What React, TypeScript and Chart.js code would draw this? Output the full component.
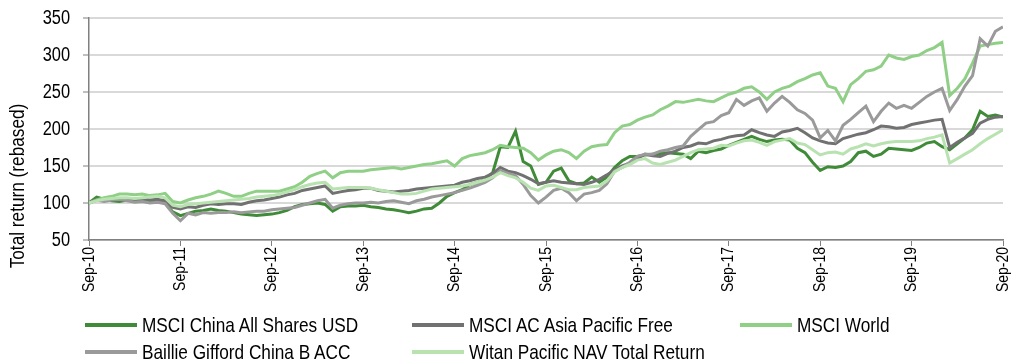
import React, { useEffect, useRef } from 'react';
import { Chart, registerables } from 'chart.js';

Chart.register(...registerables);

// Monthly observations, Sep-10 (index 0) to Sep-20 (index 120)
const X_TICK_LABELS = ['Sep-10', 'Sep-11', 'Sep-12', 'Sep-13', 'Sep-14', 'Sep-15', 'Sep-16', 'Sep-17', 'Sep-18', 'Sep-19', 'Sep-20'];
const Y_TITLE = 'Total return (rebased)';

const MSCI_CHINA_ALL = [
  100, 108, 105, 103, 102, 104, 102, 103, 101, 103, 100, 88,
  83, 86, 89, 90, 92, 90, 89, 87, 85, 84, 83, 84,
  85, 87, 90, 95, 98, 99, 100, 98, 89, 95, 96, 96,
  97, 95, 94, 92, 91, 89, 87, 89, 92, 93, 100, 109,
  114, 118, 125, 128, 132, 141, 176, 175, 197, 156, 150, 125,
  128, 143, 147, 130, 126, 127, 135, 128, 135, 148, 157, 163,
  163, 165, 166, 167, 168, 167, 166, 160, 170, 168, 171, 173,
  178, 182, 186, 190, 186, 183, 185, 186, 185, 174, 168, 155,
  144, 149, 148, 150, 156, 168, 170, 163, 166, 174, 173, 172,
  171, 175, 181, 183, 176, 172, 180, 188, 199, 224, 217, 219,
  216,
];

const MSCI_AC_ASIA_PACIFIC = [
  100, 104, 106, 105, 106, 105, 104, 106, 104, 105, 103, 94,
  92, 95, 94, 97, 99, 98, 99, 99, 98, 101, 103, 104,
  106, 108, 111, 113, 117, 119, 121, 123, 113, 115, 117, 118,
  120, 120, 117, 116, 115, 116, 117, 119, 120, 121, 122, 123,
  124, 128, 130, 133, 135, 140, 148, 143, 141, 137, 132, 126,
  128, 130, 128, 127, 126, 125, 128, 132, 138, 145, 150, 154,
  160, 166, 164, 163, 167, 170, 175, 177, 181, 180, 184, 186,
  189, 191, 192, 199, 195, 192, 190, 196, 198, 201, 195, 188,
  184, 181, 180, 187, 190, 193, 195, 199, 204, 203, 201, 202,
  206, 208, 210, 212, 213, 175, 182, 188, 194, 208, 213, 216,
  217,
];

const MSCI_WORLD = [
  100, 104, 107, 109, 112, 112, 111, 112, 110, 111, 113, 102,
  100, 104, 107, 109, 112, 116, 113, 109, 109, 113, 116, 116,
  116, 116, 119, 122, 128, 136, 140, 143, 134, 141, 143, 143,
  143, 145, 146, 147, 148, 146, 148, 150, 152, 153, 155, 157,
  150, 160, 164, 166, 168, 172, 178, 176, 175, 174, 168, 158,
  165, 170, 172, 168, 160, 170, 176, 178, 179, 195, 204, 206,
  212, 216, 219, 226, 231, 237, 236, 238, 240, 238, 237, 242,
  247, 250, 255, 257, 250, 240, 250, 255, 258, 264, 268, 273,
  276, 258, 255, 237, 260, 268, 278, 280, 285, 300, 296, 294,
  298, 300, 306, 310, 317, 245, 255, 268, 289, 312, 314, 316,
  317,
];

const BAILLIE_GIFFORD_CHINA = [
  100, 104, 102, 104, 105, 103, 101, 102, 100, 101, 99, 86,
  76, 86, 84, 87, 86, 87, 87, 88, 87, 88, 89, 89,
  91, 92, 93, 94, 97, 100, 103, 105, 93, 97, 99, 100,
  100, 101, 100, 102, 103, 101, 99, 103, 105, 108, 110, 112,
  114, 117, 120, 124, 128, 134, 144, 140, 137, 125, 110, 100,
  108, 117, 120, 114, 103, 112, 114, 117, 126, 143, 148, 155,
  163, 166, 166, 170, 172, 175, 177, 190, 199, 208, 210, 218,
  222, 240, 232, 238, 242, 224, 235, 244, 236, 226, 221, 212,
  188, 198, 184, 205, 213, 222, 231, 210, 224, 235, 228, 232,
  228, 236, 244, 250, 255, 225, 240, 258, 272, 322, 312, 332,
  338,
];

const WITAN_PACIFIC_NAV = [
  100, 103, 105, 106, 107, 107, 106, 107, 108, 109, 107, 97,
  95, 98, 99, 100, 101, 102, 103, 104, 105, 106, 108, 109,
  110, 112, 115, 118, 122, 125, 127, 128, 119, 120, 121, 121,
  121, 120, 118, 116, 114, 112, 112, 113, 116, 119, 120, 121,
  122, 123, 125, 128, 131, 135, 141, 137, 134, 128, 120, 117,
  123, 124, 121, 118, 118, 121, 122, 123, 130, 142, 148, 152,
  158, 160, 154, 152, 155, 158, 163, 168, 172, 173, 174, 178,
  177, 181, 184, 185, 182, 178, 183, 185, 187, 181, 179, 172,
  165, 168, 169, 166, 173, 176, 180, 177, 180, 182, 183, 183,
  183, 184, 187, 189, 192, 154, 160, 166, 172, 180, 187, 193,
  199,
];

const SERIES_LABELS = [
  'MSCI China All Shares USD',
  'MSCI AC Asia Pacific Free',
  'MSCI World',
  'Baillie Gifford China B ACC',
  'Witan Pacific NAV Total Return',
];
const SERIES_VALUES = [MSCI_CHINA_ALL, MSCI_AC_ASIA_PACIFIC, MSCI_WORLD, BAILLIE_GIFFORD_CHINA, WITAN_PACIFIC_NAV];
const SERIES_COLORS = ['#3f8b37', '#717171', '#8fcf86', '#9a9a9a', '#b9e2b1'];

const FONT = "'Liberation Sans', Arial, sans-serif";
const NARROW = 0.82; // horizontal squeeze to imitate a narrow typeface
const W = 1015;
const H = 361;

const LEGEND_POS = [
  { left: 85, top: 325 },
  { left: 412, top: 325 },
  { left: 740, top: 325 },
  { left: 85, top: 352 },
  { left: 412, top: 352 },
];

const textPlugin = {
  id: 'narrowText',
  afterDraw(chart: any) {
    const ctx = chart.ctx;
    const xs = chart.scales.x;
    const ys = chart.scales.y;
    ctx.save();
    ctx.fillStyle = '#000';

    // y tick labels
    ctx.font = `20px ${FONT}`;
    ctx.textAlign = 'right';
    ctx.textBaseline = 'middle';
    ys.ticks.forEach((t: any) => {
      const y = ys.getPixelForValue(t.value);
      ctx.save();
      ctx.translate(ys.right - 19, y);
      ctx.scale(NARROW, 1);
      ctx.fillText(String(t.value), 0, 0);
      ctx.restore();
    });

    // x tick labels (rotated, reading upward)
    ctx.font = `17px ${FONT}`;
    ctx.textAlign = 'right';
    ctx.textBaseline = 'middle';
    xs.ticks.forEach((t: any) => {
      const x = xs.getPixelForValue(t.value);
      const label = X_TICK_LABELS[Math.round(t.value / 12)];
      if (!label) return;
      ctx.save();
      ctx.translate(x, xs.top + 7);
      ctx.rotate(-Math.PI / 2);
      ctx.scale(NARROW, 1);
      ctx.fillText(label, 0, 0);
      ctx.restore();
    });

    // y axis title
    ctx.font = `21px ${FONT}`;
    ctx.textAlign = 'center';
    ctx.textBaseline = 'middle';
    ctx.save();
    ctx.translate(18, 186);
    ctx.rotate(-Math.PI / 2);
    ctx.scale(NARROW, 1);
    ctx.fillText(Y_TITLE, 0, 0);
    ctx.restore();

    ctx.restore();
  },
};

export default function App() {
  const ref = useRef<HTMLCanvasElement>(null);

  useEffect(() => {
    if (!ref.current) return;
    const datasets = SERIES_VALUES.map((vals, i) => ({
      label: SERIES_LABELS[i],
      data: vals.map((v, idx) => ({ x: idx, y: v })),
      borderColor: SERIES_COLORS[i],
      backgroundColor: SERIES_COLORS[i],
      borderWidth: 3,
      pointRadius: 0,
      tension: 0,
      fill: false,
      order: -i,
    }));
    const chart = new Chart(ref.current, {
      type: 'line',
      data: { datasets },
      options: {
        animation: false,
        responsive: false,
        devicePixelRatio: 1,
        layout: { padding: { left: 0, right: 12, top: 18, bottom: 61 } },
        plugins: { legend: { display: false }, tooltip: { enabled: false } },
        scales: {
          x: {
            type: 'linear',
            min: 0,
            max: 120,
            afterFit: (s: any) => {
              s.height = 60;
              s.paddingLeft = 0;
              s.paddingRight = 0;
            },
            ticks: {
              display: false,
              stepSize: 12,
              autoSkip: false,
              callback: (v: any) => X_TICK_LABELS[Math.round(Number(v) / 12)],
            },
            grid: {
              drawOnChartArea: false,
              drawTicks: true,
              tickLength: 6,
              tickColor: '#808080',
              tickWidth: 1,
            },
            border: { display: true, color: '#808080', width: 1.5 },
          },
          y: {
            min: 50,
            max: 350,
            afterFit: (s: any) => {
              s.width = 89;
              s.paddingTop = 0;
              s.paddingBottom = 0;
            },
            ticks: {
              display: false,
              stepSize: 50,
            },
            grid: {
              color: '#d9d9d9',
              lineWidth: 2,
              tickLength: 6,
              tickColor: '#808080',
              tickWidth: 1,
            },
            border: { display: true, color: '#808080', width: 1.5 },
          },
        },
      },
      plugins: [textPlugin],
    });
    return () => chart.destroy();
  }, []);

  return (
    <div style={{ position: 'absolute', left: 0, top: 0, width: W, height: H, background: '#fff' }}>
      <canvas ref={ref} width={W} height={H} style={{ display: 'block' }} />
      {SERIES_LABELS.map((label, i) => (
        <div
          key={label}
          style={{
            position: 'absolute',
            left: LEGEND_POS[i].left,
            top: LEGEND_POS[i].top - 12,
            height: 24,
            display: 'flex',
            alignItems: 'center',
            whiteSpace: 'nowrap',
          }}
        >
          <span style={{ display: 'inline-block', width: 52, height: 4, background: SERIES_COLORS[i], marginRight: 5 }} />
          <span
            style={{
              display: 'inline-block',
              fontFamily: FONT,
              fontSize: 21,
              lineHeight: '24px',
              color: '#000',
              transform: `scaleX(${NARROW})`,
              transformOrigin: 'left center',
            }}
          >
            {label}
          </span>
        </div>
      ))}
    </div>
  );
}
